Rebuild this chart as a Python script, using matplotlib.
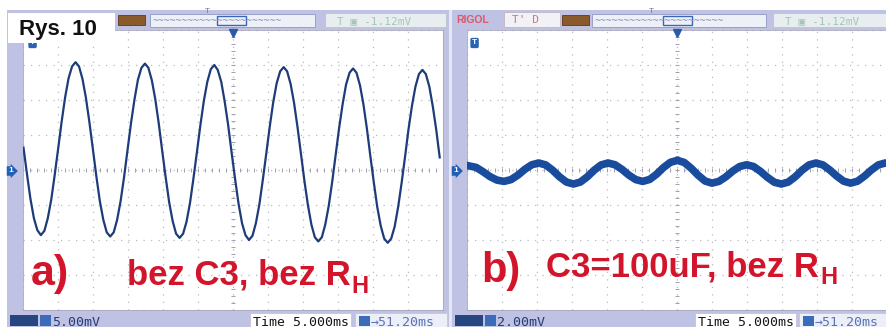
import numpy as np
import matplotlib
matplotlib.use("Agg")
import matplotlib.pyplot as plt
from matplotlib.patches import Rectangle
from matplotlib.lines import Line2D

plt.rcParams['font.family'] = ['Liberation Sans', 'DejaVu Sans']

# scope a): 5 mV/div, 5 ms/div, trace (ms, mV)
t_a = [0.07, 0.57, 1.06, 1.56, 2.05,
       2.55, 3.05, 3.54, 4.04, 4.53, 5.03, 5.52, 6.02, 6.51, 7.01,
       7.51, 8.00, 8.50, 8.99, 9.49, 9.98, 10.48, 10.97, 11.47, 11.96,
       12.46, 12.96, 13.45, 13.95, 14.44, 14.94, 15.43, 15.93, 16.42, 16.92,
       17.42, 17.91, 18.41, 18.90, 19.40, 19.89, 20.39, 20.88, 21.38, 21.87,
       22.37, 22.87, 23.36, 23.86, 24.35, 24.85, 25.34, 25.84, 26.33, 26.83,
       27.33, 27.82, 28.32, 28.81, 29.31, 29.80, 30.30, 30.79, 31.29, 31.78,
       32.28, 32.78, 33.27, 33.77, 34.26, 34.76, 35.25, 35.75, 36.24, 36.74,
       37.24, 37.73, 38.23, 38.72, 39.22, 39.71, 40.21, 40.70, 41.20, 41.69,
       42.19, 42.69, 43.18, 43.68, 44.17, 44.67, 45.16, 45.66, 46.15, 46.65,
       47.15, 47.64, 48.14, 48.63, 49.13, 49.62, 50.12, 50.61, 51.11, 51.60,
       52.10, 52.60, 53.09, 53.59, 54.08, 54.58, 55.07, 55.57, 56.06, 56.56,
       57.06, 57.55, 58.05, 58.54, 59.04, 59.53]
v_a = [3.2, -0.6, -4.1, -6.9, -8.6,
       -9.3, -8.7, -6.9, -4.2, -0.7, 3.1, 6.9, 10.4, 13.1, 14.8,
       15.4, 14.8, 13.0, 10.3, 6.8, 3.0, -0.9, -4.4, -7.1, -8.9,
       -9.5, -8.9, -7.1, -4.4, -1.0, 2.9, 6.7, 10.1, 12.9, 14.6,
       15.2, 14.6, 12.8, 10.1, 6.6, 2.7, -1.1, -4.6, -7.3, -9.1,
       -9.7, -9.1, -7.4, -4.7, -1.2, 2.6, 6.4, 9.9, 12.6, 14.4,
       15.0, 14.3, 12.6, 9.8, 6.4, 2.5, -1.3, -4.8, -7.6, -9.3,
       -10.0, -9.4, -7.6, -4.9, -1.4, 2.4, 6.2, 9.7, 12.4, 14.1,
       14.7, 14.1, 12.3, 9.6, 6.1, 2.3, -1.6, -5.0, -7.8, -9.6,
       -10.2, -9.6, -7.8, -5.1, -1.7, 2.2, 6.0, 9.4, 12.2, 13.9,
       14.5, 13.9, 12.1, 9.4, 5.9, 2.0, -1.8, -5.3, -8.0, -9.8,
       -10.4, -9.8, -8.1, -5.3, -1.9, 1.9, 5.8, 9.2, 11.9, 13.7,
       14.3, 13.7, 11.9, 9.1, 5.7, 1.8]

# scope b): 2 mV/div, 5 ms/div
t_b = [0.1, 1.3, 2.3, 3.3, 4.3,
       5.3, 6.29, 7.28, 8.27, 9.26, 10.25, 11.24, 12.23, 13.22, 14.21,
       15.2, 16.19, 17.18, 18.17, 19.16, 20.15, 21.14, 22.13, 23.12, 24.11,
       25.1, 26.09, 27.08, 28.07, 29.06, 30.05, 31.04, 32.03, 33.02, 34.01,
       35.0, 35.99, 36.98, 37.97, 38.96, 39.95, 40.94, 41.93, 42.92, 43.91,
       44.9, 45.89, 46.88, 47.87, 48.86, 49.85, 50.84, 51.83, 52.82, 53.81,
       54.8, 55.79, 56.78, 57.77, 58.76, 59.75, 60.0]
v_b = [0.25, 0.15, -0.10, -0.38, -0.58,
       -0.65, -0.55, -0.29, 0.04, 0.30, 0.40, 0.29, -0.01, -0.39, -0.69,
       -0.80, -0.69, -0.39, -0.01, 0.29, 0.40, 0.30, 0.04, -0.29, -0.55,
       -0.65, -0.54, -0.24, 0.14, 0.44, 0.55, 0.43, 0.10, -0.30, -0.63,
       -0.75, -0.65, -0.39, -0.06, 0.20, 0.30, 0.20, -0.08, -0.42, -0.70,
       -0.80, -0.69, -0.39, -0.01, 0.29, 0.40, 0.29, 0.00, -0.35, -0.64,
       -0.75, -0.64, -0.35, 0.00, 0.29, 0.40, 0.39]

scale_a = 5.0   # mV/div
scale_b = 2.0
time_div = 5.0  # ms/div

W, H = 886, 327
FRAME = '#bfc2e3'
RED = '#d3152c'


def fx(x):
    return x / W


def fy(y):
    return 1 - y / H


fig = plt.figure(figsize=(W / 100, H / 100), dpi=100)
fig.patch.set_facecolor('white')


def box(x0, y0, x1, y1, fc, ec='none', lw=0.8, z=0):
    r = Rectangle((fx(x0), fy(y1)), (x1 - x0) / W, (y1 - y0) / H,
                  transform=fig.transFigure, facecolor=fc, edgecolor=ec,
                  linewidth=lw, zorder=z)
    fig.patches.append(r)


def ftext(x, y, s, **kw):
    return fig.text(fx(x), fy(y), s, **kw)


# scope frames
box(7, 10, 449, 327, FRAME, z=-2)
box(452, 10, 886, 327, FRAME, z=-2)
box(449, 10, 452, 327, '#e6e7f3', z=-2)


def scope_axes(x0, scale, t, v, lw, color):
    ax = fig.add_axes([fx(x0), fy(310), 420 / W, 280 / H])
    ax.set_zorder(1)
    ax.set_facecolor('white')
    ax.set_xlim(0, 12 * time_div)
    ax.set_ylim(-4 * scale, 4 * scale)
    ax.set_xticks(np.arange(0, 12 * time_div + 0.1, time_div))
    ax.set_yticks(np.arange(-4 * scale, 4 * scale + 0.01, scale))
    ax.grid(True, color='#b9b9c4', linestyle=(0, (1, 5)), linewidth=0.9)
    ax.tick_params(length=0, labelbottom=False, labelleft=False)
    for s in ax.spines.values():
        s.set_color('#a8a8bc')
        s.set_linewidth(0.6)
    # small ticks along the centre cross
    xs = np.arange(0, 12 * time_div + 0.01, time_div / 5)
    ax.plot(xs, np.zeros_like(xs), '|', color='#a0a0b0', ms=3, mew=0.7)
    ys = np.arange(-4 * scale, 4 * scale + 0.001, scale / 5)
    ax.plot(np.full_like(ys, 6 * time_div), ys, '_', color='#a0a0b0', ms=3, mew=0.7)
    ax.plot(t, v, color=color, lw=lw, solid_joinstyle='round', zorder=5)
    return ax


ax1 = scope_axes(23, scale_a, t_a, v_a, 1.6, '#1e3b7a')
ax2 = scope_axes(467, scale_b, t_b, v_b, 5.5, '#1a4c9e')


# header bars
def header(xb, xm0, xm1, xmark, xbox, xtrig0, xtrig1):
    box(xb, 15, xb + 27, 25, '#8b5a2a', ec='#5e3a16', lw=0.6, z=2)
    box(xm0, 14, xm1, 27, '#eef0f8', ec='#9aa0c8', lw=0.7, z=2)
    ftext(xm0 + 3, 21, '~' * 22, fontsize=7, color='#8a90b8', va='center',
          family='DejaVu Sans Mono', zorder=3)
    box(xbox, 16, xbox + 29, 25, 'none', ec='#3a66b4', lw=1.0, z=3)
    ftext(xmark, 15, 'T', fontsize=6, color='#7078a0', ha='center', va='bottom', zorder=3)
    box(xtrig0, 13, xtrig1, 27, '#e8eef0', ec='#bcc8d4', lw=0.7, z=2)
    ftext(xtrig0 + 12, 21, 'T \u25a3 -1.12mV', fontsize=8, color='#a6c4b6',
          va='center', family='DejaVu Sans Mono', zorder=3)


header(118, 150, 315, 207, 217, 325, 446)
header(562, 592, 766, 651, 663, 773, 890)

ftext(456, 20, 'RIGOL', fontsize=7.5, color='#e0566a', weight='bold', va='center')
box(504, 12, 560, 27, '#f2f2f6', ec='#c8b8c8', lw=0.7, z=2)
ftext(512, 20, "T' D", fontsize=8, color='#c07a88', va='center',
      family='DejaVu Sans Mono', zorder=3)

# centre markers and trigger tags
for xc in (233, 677):
    fig.add_artist(Line2D([fx(xc)], [fy(33)], marker='v', ms=6, color='#2a5aa8',
                          transform=fig.transFigure, zorder=6))
for xt in (30, 472):
    ftext(xt, 43, 'T', fontsize=6, color='white', weight='bold', va='center', zorder=6,
          bbox=dict(boxstyle='round,pad=0.2', fc='#2a64b0', ec='none'))
for xg in (8, 453):
    ftext(xg, 171, '1', fontsize=6, color='white', weight='bold', va='center', zorder=6,
          bbox=dict(boxstyle='rarrow,pad=0.15', fc='#1f5fb4', ec='none'))

# "Rys. 10" label
box(8, 13, 115, 43, 'white', z=7)
ftext(19, 35, 'Rys. 10', fontsize=16, weight='bold', color='#111111', zorder=8)

# status bars
def status(x0, volts, xt0, xd0, xd1):
    box(x0, 315, x0 + 28, 326, '#27457f', z=2)
    box(x0 + 30, 315, x0 + 41, 326, '#3b6cba', z=2)
    ftext(x0 + 42, 325.5, volts, fontsize=9.5, color='#243c78',
          family='DejaVu Sans Mono', zorder=3)
    box(xt0, 313, xt0 + 101, 328, 'white', ec='#c8c8d8', lw=0.7, z=2)
    ftext(xt0 + 3, 325.5, 'Time 5.000ms', fontsize=9.5, color='#151515',
          family='DejaVu Sans Mono', zorder=3)
    box(xd0, 313, xd1, 328, '#eceef8', ec='#c8c8d8', lw=0.7, z=2)
    box(xd0 + 4, 316, xd0 + 15, 326, '#3b6cba', z=3)
    ftext(xd0 + 16, 325.5, '\u219251.20ms', fontsize=9.5, color='#5a74b4',
          family='DejaVu Sans Mono', zorder=3)


status(10, '5.00mV', 250, 355, 447)
status(455, '2.00mV', 695, 799, 890)

# red captions
ftext(31, 285, 'a)', fontsize=31, weight='bold', color=RED, zorder=8)
ta = ftext(127, 285, 'bez C3, bez R', fontsize=25, weight='bold', color=RED, zorder=8)
ftext(481, 282, 'b)', fontsize=30, weight='bold', color=RED, zorder=8)
tb = ftext(546, 277, 'C3=100uF, bez R', fontsize=25, weight='bold', color=RED, zorder=8)

fig.canvas.draw()
for t, base in ((ta, 293), (tb, 284)):
    bb = t.get_window_extent()
    fig.text(bb.x1 / W + 1 / W, fy(base), 'H', fontsize=17, weight='bold',
             color=RED, zorder=8)

fig.savefig('out.png', dpi=100)
